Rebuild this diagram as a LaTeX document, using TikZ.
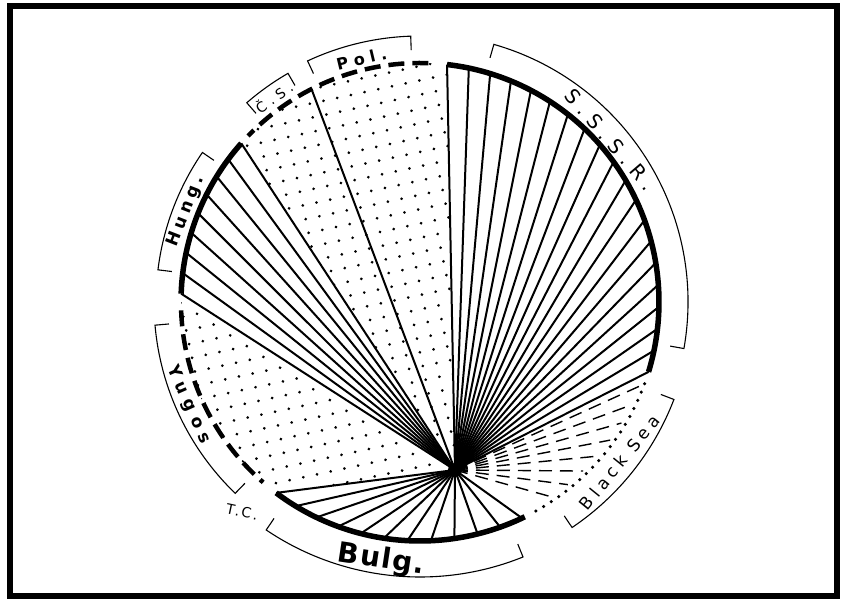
\documentclass[tikz,border=0pt]{standalone}
\usepackage{fontspec}
\setmainfont{DejaVu Sans}
\newfontfamily\handfont{DejaVu Sans}
\usetikzlibrary{patterns.meta}
\newcommand{\circR}{239}
\newcommand{\spaced}[1]{\addfontfeatures{LetterSpace=#1}}
\newcommand{\bracketarc}[3]{%
  \draw[bracket] ({#1}:{#3-14}) -- ({#1}:{#3})
    arc[start angle={#1}, end angle={#2}, radius={#3}] -- ({#2}:{#3-14});}

\begin{document}
\begin{tikzpicture}[
    x=1pt, y=1pt,
    fanline/.style={line width=2pt},
    sealine/.style={line width=1.4pt, dash pattern=on 13pt off 8pt},
    rim/.style={line width=5.5pt},
    rimdash/.style={line width=4.5pt, dash pattern=on 16pt off 8pt},
    rimdot/.style={line width=3.5pt, line cap=round, dash pattern=on 0pt off 9pt},
    bracket/.style={line width=1.1pt},
    stipple/.style={pattern={Dots[distance=14pt, radius=1.5pt, angle=12]}},
    lbl/.style={font=\handfont, inner sep=0pt}
  ]

  \useasboundingbox (-420,-297) rectangle (421,302);
  \draw[line width=6pt] (-410,-294) rectangle (417,296);

  \coordinate (hub) at (35,-168);

  \fill[stipple] (hub) -- (83.5:\circR)
    arc[start angle=83.5, end angle=138.4, radius=\circR] -- cycle;
  \fill[stipple] (hub) -- (178:\circR)
    arc[start angle=178, end angle=233, radius=\circR] -- cycle;

  \foreach \a in {83.5,78.21,...,-17.1} \draw[fanline] (hub) -- (\a:\circR);
  \foreach \a in {138.4,143.35,...,178.1} \draw[fanline] (hub) -- (\a:\circR);
  \foreach \a in {-127,-121.34,...,-64.5} \draw[fanline] (hub) -- (\a:\circR);
  \draw[fanline] (hub) -- (117:\circR);
  \foreach \a in {-21,-26,...,-60} \draw[sealine] (hub) -- (\a:\circR-4);
  \fill (hub) circle (7);

  \draw[rim] (83.5:\circR) arc[start angle=83.5, end angle=-17, radius=\circR];
  \draw[rim] (138.4:\circR) arc[start angle=138.4, end angle=178, radius=\circR];
  \draw[rim] (-127:\circR) arc[start angle=-127, end angle=-64, radius=\circR];
  \draw[rimdash] (88:\circR) arc[start angle=88, end angle=136, radius=\circR];
  \draw[rimdash] (182:\circR) arc[start angle=182, end angle=229, radius=\circR];
  \draw[rimdot] (-20:\circR) arc[start angle=-20, end angle=-62, radius=\circR];

  \bracketarc{74}{-10}{268}
  \bracketarc{-21}{-56}{272}
  \bracketarc{-68}{-124}{275}
  \bracketarc{185}{226}{266}
  \bracketarc{145.5}{173}{264}
  \bracketarc{131}{120}{264}
  \bracketarc{115}{92}{266}

  \node[lbl, rotate=-49.5, font=\handfont\fontsize{20}{20}\selectfont\spaced{35}]
    (sssr) at (40.5:250) {S.S.S.R.};
  \node[lbl, rotate=51, font=\handfont\fontsize{17}{17}\selectfont\spaced{28}]
    (blacksea) at (-38.8:256) {Black Sea};
  \node[lbl, rotate=-8.6, font=\handfont\bfseries\fontsize{28}{28}\selectfont\spaced{5}]
    (bulg) at (-98.6:261) {Bulg.};
  \node[lbl, rotate=-12, font=\handfont\fontsize{14}{14}\selectfont\spaced{15}]
    (tc) at (229.7:275) {T.C.};
  \node[lbl, rotate=-66, font=\handfont\bfseries\fontsize{17}{17}\selectfont\spaced{40}]
    (yugos) at (204:253) {Yugos};
  \node[lbl, rotate=68.8, font=\handfont\bfseries\fontsize{17}{17}\selectfont\spaced{25}]
    (hung) at (158.8:251) {Hung.};
  \node[lbl, rotate=36, font=\handfont\fontsize{14}{14}\selectfont\spaced{35}]
    (cs) at (125.5:252) {Č.S.};
  \node[lbl, rotate=13.5, font=\handfont\bfseries\fontsize{16}{16}\selectfont\spaced{35}]
    (pol) at (103.5:250) {Pol.};

\end{tikzpicture}
\end{document}
